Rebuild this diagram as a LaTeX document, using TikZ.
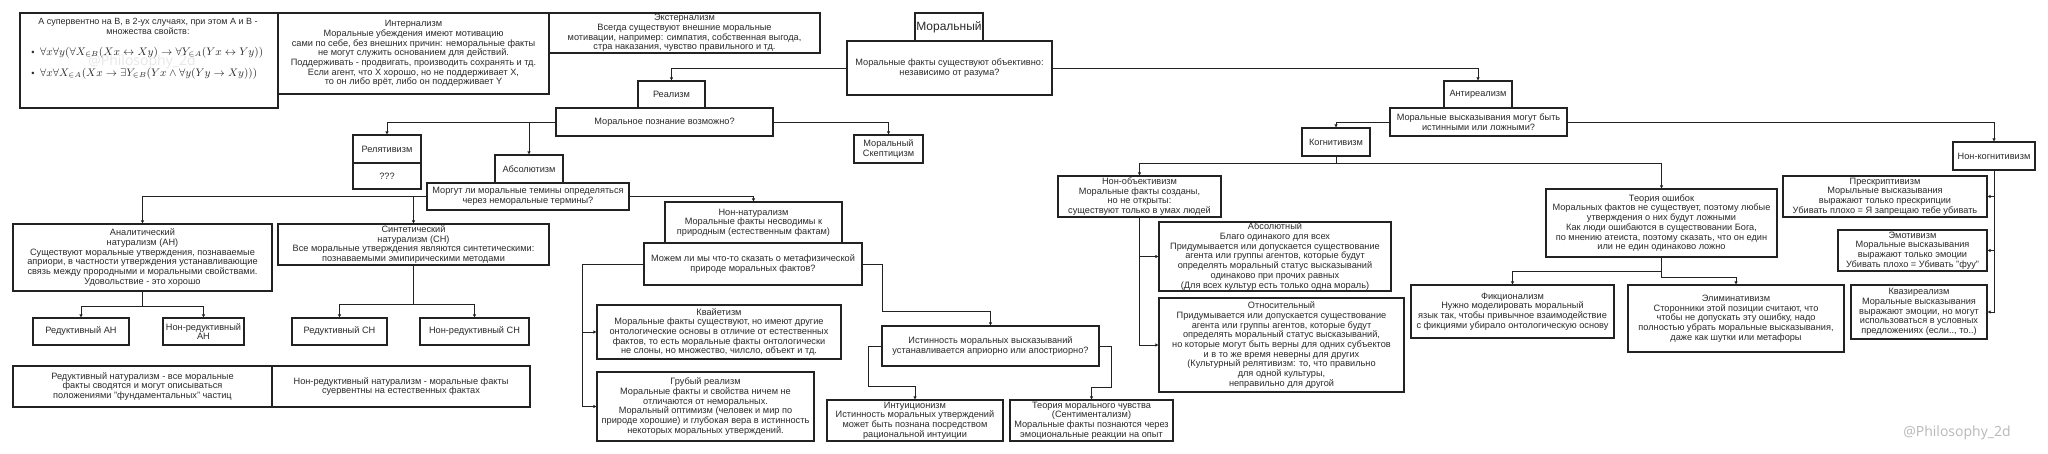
\documentclass[tikz,border=0pt]{standalone}
\usepackage{graphicx}
\usepackage{fontspec}
\setmainfont{Liberation Sans}
\newfontfamily\wmfont{Open Sans}
\usetikzlibrary{arrows.meta}
\definecolor{ink}{HTML}{222222}
\definecolor{txtc}{HTML}{2A2A2A}
\newcommand\fsz{\fontsize{9.2}{9.7}\selectfont}
\tikzset{
  box/.style={draw=ink, line width=1.2pt, fill=white, inner sep=0.5pt, align=center, text=txtc, font=\fsz},
  txt/.style={inner sep=0pt, align=center, text=txtc, font=\fsz},
  arr/.style={draw=ink, line width=0.9pt, -{Triangle[length=3pt,width=3pt]}},
  wm/.style={inner sep=0pt, font=\wmfont\fontsize{14}{14}\selectfont}
}
\newcommand\bx[6]{\node[box, minimum width={(#4)-(#2)}, minimum height={(#5)-(#3)}] (#1) at ({((#2)+(#4))/2},{((#3)+(#5))/2}) {#6};}
\begin{document}
\begin{tikzpicture}[x=1pt,y=-1pt]
\fill[white] (0,0) rectangle (2048,454);
\useasboundingbox (0,0) rectangle (2048,454);

% top-left
\bx{sup}{20}{13}{278}{108}{}
\node[wm, text=black!9] (wm2) at (142,62) {@Philosophy\_2d};
\node[txt, font=\fontsize{9}{7.4}\selectfont] (suptxt) at (148,26.5) {А супервентно на В, в 2-ух случаях, при этом А и В -\\множества свойств:};
\node[txt] (b1) at (33,53) {•};
\node[txt, anchor=west] (f1) at (40,53) {\resizebox{223pt}{!}{$\forall x\forall y(\forall X_{\in B}(Xx\leftrightarrow Xy)\rightarrow\forall Y_{\in A}(Yx\leftrightarrow Yy))$}};
\node[txt] (b2) at (33,74) {•};
\node[txt, anchor=west] (f2) at (40,74) {\resizebox{217pt}{!}{$\forall x\forall X_{\in A}(Xx\rightarrow\exists Y_{\in B}(Yx\wedge\forall y(Yy\rightarrow Xy)))$}};

\bx{intern}{278}{13}{549}{94}{Интернализм\\Моральные убеждения имеют мотивацию\\сами по себе, без внешних причин: неморальные факты\\не могут служить основанием для действий.\\Поддерживать - продвигать, производить сохранять и тд.\\Если агент, что X хорошо, но не поддерживает X,\\то он либо врёт, либо он поддерживает Y}
\bx{extern}{549}{13}{820}{53}{Экстернализм\\Всегда существуют внешние моральные\\мотивации, например: симпатия, собственная выгода,\\стра наказания, чувство правильного и тд.}

% root
\bx{mhead}{915}{13}{983}{41}{\fontsize{12}{13}\selectfont Моральный}
\bx{mq}{847}{41}{1052}{95}{Моральные факты существуют объективно:\\независимо от разума?}

% realism branch
\bx{real}{638}{81}{705}{108}{Реализм}
\bx{realq}{556}{108}{773}{136}{Моральное познание возможно?}
\bx{skept}{854}{135}{923}{163}{Моральный\\Скептицизм}
\bx{relA}{353}{135}{421}{163}{Релятивизм}
\bx{relB}{353}{163}{421}{189}{???}
\bx{absol}{495}{155}{563}{183}{Абсолютизм}
\bx{absq}{427}{183}{629}{210}{Моргут ли моральные темины определяться\\через неморальные термины?}
\bx{anal}{13}{224}{272}{291}{Аналитический\\натурализм (АН)\\Существуют моральные утверждения, познаваемые\\априори, в частности утверждения устанавливающие\\связь между прородными и моральными свойствами.\\Удовольствие - это хорошо}
\bx{synt}{278}{224}{549}{265}{Синтетический\\натурализм (СН)\\Все моральные утверждения являются синтетическими:\\познаваемыми эмипирическими методами}
\bx{redAN}{33}{318}{129}{345}{Редуктивный АН}
\bx{nredAN}{163}{318}{244}{345}{Нон-редуктивный\\АН}
\bx{redSN}{292}{318}{387}{345}{Редуктивный СН}
\bx{nredSN}{420}{318}{529}{345}{Нон-редуктивный СН}
\bx{redN}{13}{366}{272}{407}{Редуктивный натурализм - все моральные\\факты сводятся и могут описываться\\положениями "фундаментальных" частиц}
\bx{nredN}{272}{366}{530}{407}{Нон-редуктивный натурализм - моральные факты\\суервентны на естественных фактах}
\bx{nonnat}{665}{202}{842}{243}{Нон-натурализм\\Моральные факты несводимы к\\природным (естественным фактам)}
\bx{nonnatq}{644}{243}{862}{285}{Можем ли мы что-то сказать о метафизической\\природе моральных фактов?}
\bx{quiet}{597}{305}{841}{359}{Квайетизм\\Моральные факты существуют, но имеют другие\\онтологические основы в отличие от естественных\\фактов, то есть моральные факты онтологически\\не слоны, но множество, чилсло, объект и тд.}
\bx{crude}{597}{372}{814}{441}{Грубый реализм\\Моральные факты и свойства ничем не\\отличаются от неморальных.\\Моральный оптимизм (человек и мир по\\природе хорошие) и глубокая вера в истинность\\некоторых моральных утверждений.}
\bx{ist}{882}{326}{1099}{366}{Истинность моральных высказываний\\устанавливается априорно или апостриорно?}
\bx{intu}{827}{400}{1003}{441}{Интуиционизм\\Истинность моральных утверждений\\может быть познана посредством\\рациональной интуиции}
\bx{sent}{1010}{400}{1173}{441}{Теория морального чувства\\(Сентиментализм)\\Моральные факты познаются через\\эмоциональные реакции на опыт}

% antirealism branch
\bx{antireal}{1444}{81}{1512}{108}{Антиреализм}
\bx{antirealq}{1390}{108}{1567}{136}{Моральные высказывания могут быть\\истинными или ложными?}
\bx{cogn}{1302}{128}{1370}{156}{Когнитивизм}
\bx{noncogn}{1953}{142}{2035}{170}{Нон-когнитивизм}
\bx{nonobj}{1058}{176}{1221}{217}{Нон-объективизм\\Моральные факты созданы,\\но не открыты:\\существуют только в умах людей}
\bx{absl}{1159}{222}{1391}{291}{Абсолютный\\Благо одинакого для всех\\Придумывается или допускается существование\\агента или группы агентов, которые будут\\определять моральный статус высказываний\\одинаково при прочих равных\\(Для всех культур есть только одна мораль)}
\bx{relt}{1159}{298}{1404}{392}{Относительный\\Придумывается или допускается существование\\агента или группы агентов, которые будут\\определять моральный статус высказываний,\\но которые могут быть верны для одних субъектов\\и в то же время неверны для других\\(Культурный релятивизм: то, что правильно\\для одной культуры,\\неправильно для другой}
\bx{err}{1546}{189}{1777}{257}{Теория ошибок\\Моральных фактов не существует, поэтому любые\\утверждения о них будут ложными\\Как люди ошибаются в существовании Бога,\\по мнению атеиста, поэтому сказать, что он един\\или не един одинаково ложно}
\bx{fict}{1411}{285}{1614}{338}{Фикционализм\\Нужно моделировать моральный\\язык так, чтобы привычное взаимодействие\\с фикциями убирало онтологическую основу}
\bx{elim}{1628}{285}{1844}{352}{Элиминативизм\\Сторонники этой позиции считают, что\\чтобы не допускать эту ошибку, надо\\полностью убрать моральные высказывания,\\даже как шутки или метафоры}
\bx{presc}{1783}{176}{1987}{217}{Прескриптивизм\\Морыльные высказывания\\выражают только прескрипции\\Убивать плохо = Я запрещаю тебе убивать}
\bx{emot}{1838}{230}{1987}{271}{Эмотивизм\\Моральные высказывания\\выражают только эмоции\\Убивать плохо = Убивать "фуу"}
\bx{quasi}{1851}{285}{1987}{339}{Квазиреализм\\Моральные высказывания\\выражают эмоции, но могут\\использоваться в условных\\предложениях (если.., то..)}

% connectors
\draw[arr] (mq.west) -| (real.north);
\draw[arr] (mq.east) -| (antireal.north);
\draw[arr] (realq.west) -| (relA.north);
\draw[arr] (realq.west) -| (absol.north);
\draw[arr] (realq.east) -| (skept.north);
\draw[arr] (absq.west) -| (anal.north);
\draw[arr] (absq.west) -| (synt.north);
\draw[arr] (absq.east) -| (nonnat.north);
\draw[arr] (anal.south) -- ++(0,15) -| (redAN.north);
\draw[arr] (anal.south) -- ++(0,15) -| (nredAN.north);
\draw[arr] (synt.south) -- ++(0,39) -| (redSN.north);
\draw[arr] (synt.south) -- ++(0,39) -| (nredSN.north);
\draw[arr] (nonnatq.west) -- ++(-61,0) |- (quiet.west);
\draw[arr] (nonnatq.west) -- ++(-61,0) |- (crude.west);
\draw[arr] (nonnatq.east) -- ++(20,0) -- ++(0,47) -| (ist.north);
\draw[arr] (ist.west) -- ++(-13,0) -- ++(0,40) -| (intu.north);
\draw[arr] (ist.east) -- ++(12,0) -- ++(0,41) -| (sent.north);
\draw[arr] (antirealq.west) -| (cogn.north);
\draw[arr] (antirealq.east) -| (noncogn.north);
\draw[arr] (cogn.south) -- ++(0,7) -| (nonobj.north);
\draw[arr] (cogn.south) -- ++(0,7) -| (err.north);
\draw[arr] (nonobj.south) |- (absl.west);
\draw[arr] (nonobj.south) |- (relt.west);
\draw[arr] (err.south) -- ++(0,14) -| (fict.north);
\draw[arr] (err.south) -- ++(0,20) -| (elim.north);
\draw[arr] (noncogn.south) |- (presc.east);
\draw[arr] (noncogn.south) |- (emot.east);
\draw[arr] (noncogn.south) |- (quasi.east);

\node[wm, text=black!28] (wm1) at (1957,433) {@Philosophy\_2d};
\end{tikzpicture}
\end{document}
